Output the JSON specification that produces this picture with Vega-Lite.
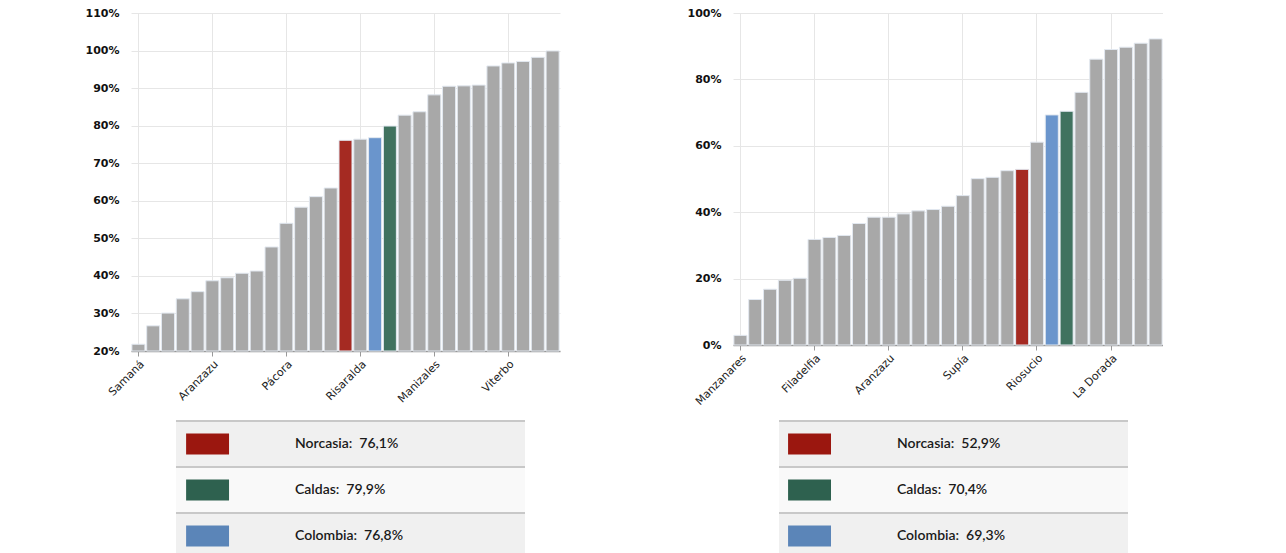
{
  "$schema": "https://vega.github.io/schema/vega-lite/v6.json",
  "background": "white",
  "padding": {"left": 85, "top": 7, "right": 0, "bottom": 0},
  "spacing": 127,
  "config": {
    "view": {"stroke": null},
    "axis": {"labelFont": "DejaVu Sans", "gridColor": "#e6e6e6", "gridWidth": 1}
  },
  "datasets": {
    "left": [
      {"name": "Samaná", "value": 21.8, "kind": "Municipio"},
      {"name": "Marulanda", "value": 26.7, "kind": "Municipio"},
      {"name": "Pensilvania", "value": 30.1, "kind": "Municipio"},
      {"name": "Manzanares", "value": 33.9, "kind": "Municipio"},
      {"name": "Marquetalia", "value": 35.8, "kind": "Municipio"},
      {"name": "Aranzazu", "value": 38.7, "kind": "Municipio"},
      {"name": "Aguadas", "value": 39.5, "kind": "Municipio"},
      {"name": "Salamina", "value": 40.7, "kind": "Municipio"},
      {"name": "Filadelfia", "value": 41.3, "kind": "Municipio"},
      {"name": "La Merced", "value": 47.7, "kind": "Municipio"},
      {"name": "Pácora", "value": 54.0, "kind": "Municipio"},
      {"name": "Victoria", "value": 58.3, "kind": "Municipio"},
      {"name": "San José", "value": 61.1, "kind": "Municipio"},
      {"name": "Marmato", "value": 63.4, "kind": "Municipio"},
      {"name": "Norcasia", "value": 76.1, "kind": "Norcasia"},
      {"name": "Risaralda", "value": 76.4, "kind": "Municipio"},
      {"name": "Colombia", "value": 76.8, "kind": "Colombia"},
      {"name": "Caldas", "value": 79.9, "kind": "Caldas"},
      {"name": "Riosucio", "value": 82.8, "kind": "Municipio"},
      {"name": "Supía", "value": 83.7, "kind": "Municipio"},
      {"name": "Manizales", "value": 88.2, "kind": "Municipio"},
      {"name": "Neira", "value": 90.5, "kind": "Municipio"},
      {"name": "Belalcázar", "value": 90.6, "kind": "Municipio"},
      {"name": "Anserma", "value": 90.8, "kind": "Municipio"},
      {"name": "La Dorada", "value": 95.9, "kind": "Municipio"},
      {"name": "Viterbo", "value": 96.7, "kind": "Municipio"},
      {"name": "Palestina", "value": 97.1, "kind": "Municipio"},
      {"name": "Chinchiná", "value": 98.2, "kind": "Municipio"},
      {"name": "Villamaría", "value": 99.9, "kind": "Municipio"}
    ],
    "right": [
      {"name": "Manzanares", "value": 2.9, "kind": "Municipio"},
      {"name": "Marulanda", "value": 13.7, "kind": "Municipio"},
      {"name": "Pensilvania", "value": 16.8, "kind": "Municipio"},
      {"name": "Samaná", "value": 19.5, "kind": "Municipio"},
      {"name": "San José", "value": 20.1, "kind": "Municipio"},
      {"name": "Filadelfia", "value": 31.8, "kind": "Municipio"},
      {"name": "Marquetalia", "value": 32.4, "kind": "Municipio"},
      {"name": "Aguadas", "value": 33.0, "kind": "Municipio"},
      {"name": "La Merced", "value": 36.6, "kind": "Municipio"},
      {"name": "Salamina", "value": 38.5, "kind": "Municipio"},
      {"name": "Aranzazu", "value": 38.5, "kind": "Municipio"},
      {"name": "Pácora", "value": 39.5, "kind": "Municipio"},
      {"name": "Victoria", "value": 40.4, "kind": "Municipio"},
      {"name": "Belalcázar", "value": 40.8, "kind": "Municipio"},
      {"name": "Marmato", "value": 41.8, "kind": "Municipio"},
      {"name": "Supía", "value": 45.0, "kind": "Municipio"},
      {"name": "Risaralda", "value": 50.1, "kind": "Municipio"},
      {"name": "Neira", "value": 50.5, "kind": "Municipio"},
      {"name": "Anserma", "value": 52.5, "kind": "Municipio"},
      {"name": "Norcasia", "value": 52.9, "kind": "Norcasia"},
      {"name": "Riosucio", "value": 61.1, "kind": "Municipio"},
      {"name": "Colombia", "value": 69.3, "kind": "Colombia"},
      {"name": "Caldas", "value": 70.4, "kind": "Caldas"},
      {"name": "Palestina", "value": 76.1, "kind": "Municipio"},
      {"name": "Viterbo", "value": 86.1, "kind": "Municipio"},
      {"name": "La Dorada", "value": 89.0, "kind": "Municipio"},
      {"name": "Chinchiná", "value": 89.7, "kind": "Municipio"},
      {"name": "Villamaría", "value": 90.9, "kind": "Municipio"},
      {"name": "Manizales", "value": 92.2, "kind": "Municipio"}
    ],
    "leftTable": [
      {"name": "Norcasia", "label": "Norcasia:\u00a0 76,1%"},
      {"name": "Caldas", "label": "Caldas:\u00a0 79,9%"},
      {"name": "Colombia", "label": "Colombia:\u00a0 76,8%"}
    ],
    "rightTable": [
      {"name": "Norcasia", "label": "Norcasia:\u00a0 52,9%"},
      {"name": "Caldas", "label": "Caldas:\u00a0 70,4%"},
      {"name": "Colombia", "label": "Colombia:\u00a0 69,3%"}
    ]
  },
  "hconcat": [
    {
      "vconcat": [
        {
          "width": 429,
          "height": 338,
          "data": {"name": "left"},
          "mark": {"type": "bar", "stroke": "#e2e8f0", "strokeWidth": 1},
          "encoding": {
            "x": {
              "field": "name", "type": "nominal", "sort": null,
              "scale": {"paddingInner": 0.12, "paddingOuter": 0.06},
              "axis": {
                "title": null,
                "values": ["Samaná", "Aranzazu", "Pácora", "Risaralda", "Manizales", "Viterbo"],
                "labelAngle": -45, "labelAlign": "right", "labelBaseline": "top",
                "labelFontSize": 11, "labelColor": "#222", "labelPadding": 2,
                "grid": true, "tickColor": "#999", "tickSize": 5,
                "domainColor": "#999", "domainWidth": 1.5, "bandPosition": 0.5
              }
            },
            "y": {
              "field": "value", "type": "quantitative",
              "scale": {"domain": [20, 110], "zero": false, "nice": false},
              "axis": {
                "title": null, "values": [20, 30, 40, 50, 60, 70, 80, 90, 100, 110],
                "labelExpr": "datum.value + '%'", "labelFontSize": 11, "labelFontWeight": "bold",
                "labelColor": "#111", "domain": false, "ticks": false, "labelPadding": 12
              }
            },
            "y2": {"datum": 20},
            "color": {
              "field": "kind", "type": "nominal", "legend": null,
              "scale": {"domain": ["Municipio", "Norcasia", "Caldas", "Colombia"], "range": ["#a8a8a8", "#a52a22", "#40725f", "#6a95cc"]}
            }
          }
        },
        {
          "width": 394,
          "height": 138,
          "data": {"name": "leftTable"},
          "encoding": {
            "y": {"field": "name", "type": "nominal", "sort": null, "axis": null, "scale": {"paddingInner": 0, "paddingOuter": 0}}
          },
          "layer": [
            {
              "mark": {"type": "rect"},
              "encoding": {
                "x": {"datum": 0, "type": "quantitative", "scale": {"domain": [-0.1289, 1], "nice": false, "zero": false}, "axis": null},
                "x2": {"datum": 1},
                "fill": {"condition": {"test": "datum.name === 'Caldas'", "value": "#f9f9f9"}, "value": "#f0f0f0"}
              }
            },
            {
              "mark": {"type": "rule", "color": "#c8c8c8", "strokeWidth": 2},
              "encoding": {
                "y": {"field": "name", "type": "nominal", "sort": null, "bandPosition": 0},
                "x": {"datum": 0, "type": "quantitative"},
                "x2": {"datum": 1}
              }
            },
            {
              "mark": {"type": "rect", "height": {"band": 0.46}},
              "encoding": {
                "x": {"datum": 0.029, "type": "quantitative"},
                "x2": {"datum": 0.152},
                "fill": {
                  "field": "name", "type": "nominal", "legend": null,
                  "scale": {"domain": ["Norcasia", "Caldas", "Colombia"], "range": ["#9b170f", "#2e614f", "#5b85b8"]}
                }
              }
            },
            {
              "mark": {"type": "text", "align": "left", "baseline": "middle", "font": "Lato", "fontSize": 14, "fontWeight": 600, "color": "#1a1a1a"},
              "encoding": {
                "x": {"datum": 0.341, "type": "quantitative"},
                "text": {"field": "label"}
              }
            }
          ],
          "resolve": {"scale": {"fill": "independent"}}
        }
      ],
      "spacing": 70,
      "bounds": "flush"
    },
    {
      "vconcat": [
        {
          "width": 430,
          "height": 332,
          "data": {"name": "right"},
          "mark": {"type": "bar", "stroke": "#e2e8f0", "strokeWidth": 1},
          "encoding": {
            "x": {
              "field": "name", "type": "nominal", "sort": null,
              "scale": {"paddingInner": 0.12, "paddingOuter": 0.06},
              "axis": {
                "title": null,
                "values": ["Manzanares", "Filadelfia", "Aranzazu", "Supía", "Riosucio", "La Dorada"],
                "labelAngle": -45, "labelAlign": "right", "labelBaseline": "top",
                "labelFontSize": 11, "labelColor": "#222", "labelPadding": 2,
                "grid": true, "tickColor": "#999", "tickSize": 5,
                "domainColor": "#999", "domainWidth": 1.5, "bandPosition": 0.5
              }
            },
            "y": {
              "field": "value", "type": "quantitative",
              "scale": {"domain": [0, 100], "nice": false},
              "axis": {
                "title": null, "values": [0, 20, 40, 60, 80, 100],
                "labelExpr": "datum.value + '%'", "labelFontSize": 11, "labelFontWeight": "bold",
                "labelColor": "#111", "domain": false, "ticks": false, "labelPadding": 12
              }
            },
            "color": {
              "field": "kind", "type": "nominal", "legend": null,
              "scale": {"domain": ["Municipio", "Norcasia", "Caldas", "Colombia"], "range": ["#a8a8a8", "#a52a22", "#40725f", "#6a95cc"]}
            }
          }
        },
        {
          "width": 395,
          "height": 138,
          "data": {"name": "rightTable"},
          "encoding": {
            "y": {"field": "name", "type": "nominal", "sort": null, "axis": null, "scale": {"paddingInner": 0, "paddingOuter": 0}}
          },
          "layer": [
            {
              "mark": {"type": "rect"},
              "encoding": {
                "x": {"datum": 0, "type": "quantitative", "scale": {"domain": [-0.1318, 1], "nice": false, "zero": false}, "axis": null},
                "x2": {"datum": 1},
                "fill": {"condition": {"test": "datum.name === 'Caldas'", "value": "#f9f9f9"}, "value": "#f0f0f0"}
              }
            },
            {
              "mark": {"type": "rule", "color": "#c8c8c8", "strokeWidth": 2},
              "encoding": {
                "y": {"field": "name", "type": "nominal", "sort": null, "bandPosition": 0},
                "x": {"datum": 0, "type": "quantitative"},
                "x2": {"datum": 1}
              }
            },
            {
              "mark": {"type": "rect", "height": {"band": 0.46}},
              "encoding": {
                "x": {"datum": 0.026, "type": "quantitative"},
                "x2": {"datum": 0.149},
                "fill": {
                  "field": "name", "type": "nominal", "legend": null,
                  "scale": {"domain": ["Norcasia", "Caldas", "Colombia"], "range": ["#9b170f", "#2e614f", "#5b85b8"]}
                }
              }
            },
            {
              "mark": {"type": "text", "align": "left", "baseline": "middle", "font": "Lato", "fontSize": 14, "fontWeight": 600, "color": "#1a1a1a"},
              "encoding": {
                "x": {"datum": 0.338, "type": "quantitative"},
                "text": {"field": "label"}
              }
            }
          ],
          "resolve": {"scale": {"fill": "independent"}}
        }
      ],
      "spacing": 76,
      "bounds": "flush"
    }
  ]
}
